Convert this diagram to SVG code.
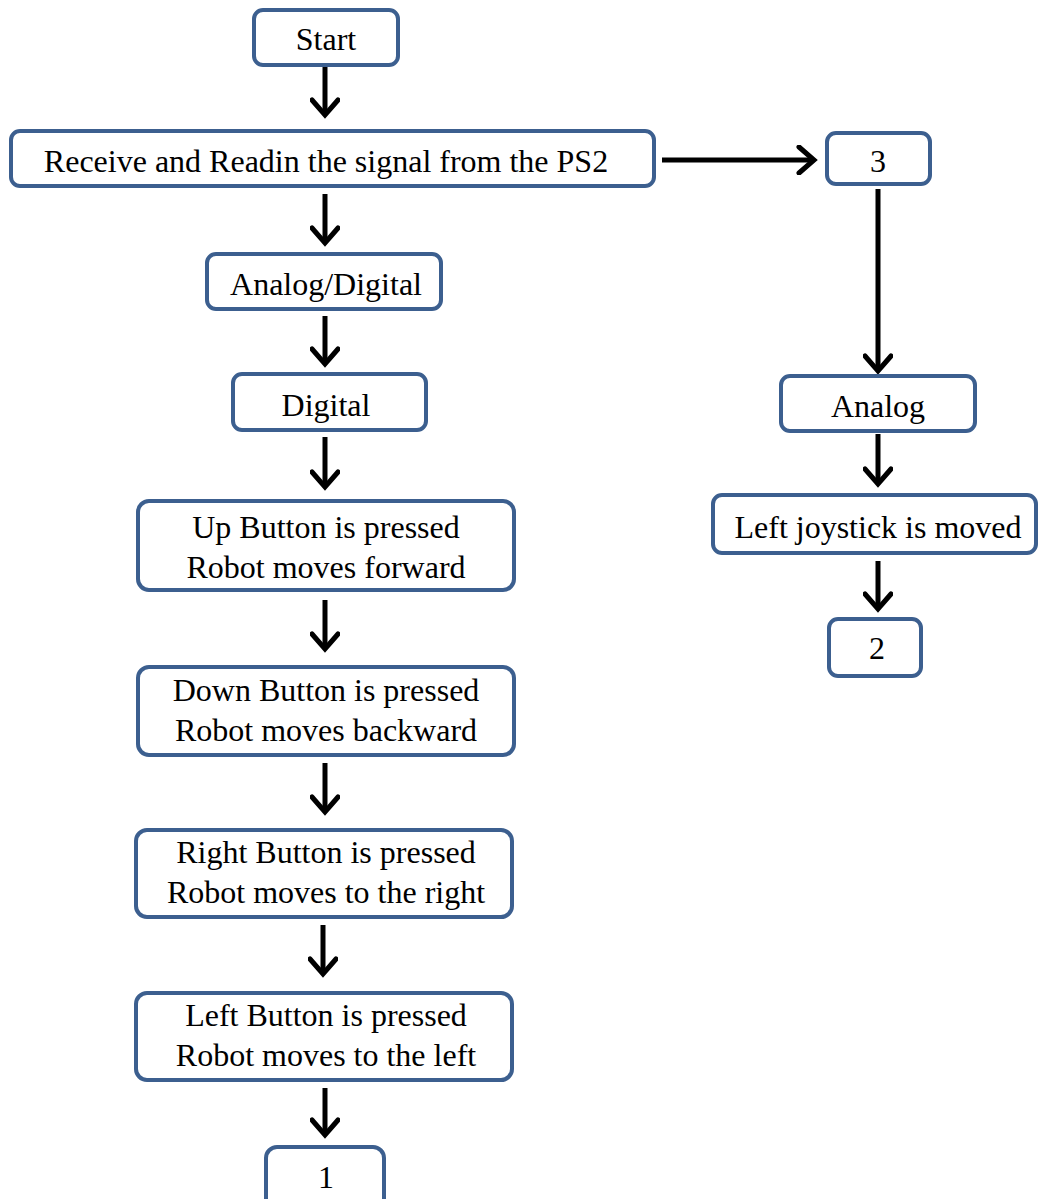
<svg xmlns="http://www.w3.org/2000/svg" width="1038" height="1199" viewBox="0 0 1038 1199">
<defs>
<style>
.box{fill:#fff;stroke:#3C5F8F;stroke-width:4}
.c{stroke:#000;stroke-width:5;fill:none}
</style>
<marker id="ah" markerUnits="userSpaceOnUse" viewBox="-20 -15 24 30" markerWidth="24" markerHeight="30" refX="0" refY="0" orient="auto">
<path d="M-15,-13 L0,0 L-15,13" fill="none" stroke="#000" stroke-width="5" stroke-linecap="round" stroke-linejoin="miter"/>
</marker>
</defs>
<rect width="1038" height="1199" fill="#fff"/>
<g id="connectors">
<line class="c" x1="325" y1="66" x2="325" y2="115" marker-end="url(#ah)"/>
<line class="c" x1="325" y1="194" x2="325" y2="243" marker-end="url(#ah)"/>
<line class="c" x1="325" y1="316" x2="325" y2="364" marker-end="url(#ah)"/>
<line class="c" x1="325" y1="437" x2="325" y2="487" marker-end="url(#ah)"/>
<line class="c" x1="325" y1="600" x2="325" y2="649" marker-end="url(#ah)"/>
<line class="c" x1="325" y1="763" x2="325" y2="812" marker-end="url(#ah)"/>
<line class="c" x1="323" y1="925" x2="323" y2="974" marker-end="url(#ah)"/>
<line class="c" x1="325" y1="1088" x2="325" y2="1135" marker-end="url(#ah)"/>
<line class="c" x1="662" y1="160" x2="814" y2="160" marker-end="url(#ah)"/>
<line class="c" x1="878" y1="189" x2="878" y2="371" marker-end="url(#ah)"/>
<line class="c" x1="878" y1="434" x2="878" y2="484" marker-end="url(#ah)"/>
<line class="c" x1="878" y1="561" x2="878" y2="609" marker-end="url(#ah)"/>
</g>
<g font-family="'Liberation Serif', 'Times New Roman', Times, serif" font-size="32" fill="#000" text-anchor="middle">
<g id="start"><rect class="box" x="254" y="10" width="144" height="55" rx="9"/><text x="326" y="50">Start</text></g>
<g id="receive"><rect class="box" x="11" y="131" width="643" height="55" rx="9"/><text x="326" y="172">Receive and Readin the signal from the PS2</text></g>
<g id="n3"><rect class="box" x="827" y="133" width="103" height="51" rx="9"/><text x="878" y="172">3</text></g>
<g id="analogdigital"><rect class="box" x="207" y="254" width="234" height="55" rx="9"/><text x="326" y="295">Analog/Digital</text></g>
<g id="digital"><rect class="box" x="233" y="374" width="193" height="56" rx="9"/><text x="326" y="416">Digital</text></g>
<g id="analog"><rect class="box" x="781" y="376" width="194" height="55" rx="9"/><text x="878" y="417">Analog</text></g>
<g id="joystick"><rect class="box" x="713" y="495" width="323" height="58" rx="9"/><text x="878" y="538">Left joystick is moved</text></g>
<g id="n2"><rect class="box" x="829" y="619" width="92" height="57" rx="9"/><text x="877" y="659">2</text></g>
<g id="up"><rect class="box" x="138" y="501" width="376" height="89" rx="11"/><text x="326" y="538">Up Button is pressed</text><text x="326" y="578">Robot moves forward</text></g>
<g id="down"><rect class="box" x="138" y="667" width="376" height="88" rx="11"/><text x="326" y="701">Down Button is pressed</text><text x="326" y="741">Robot moves backward</text></g>
<g id="right"><rect class="box" x="136" y="830" width="376" height="87" rx="11"/><text x="326" y="863">Right Button is pressed</text><text x="326" y="903">Robot moves to the right</text></g>
<g id="left"><rect class="box" x="136" y="993" width="376" height="87" rx="11"/><text x="326" y="1026">Left Button is pressed</text><text x="326" y="1066">Robot moves to the left</text></g>
<g id="n1"><rect class="box" x="266" y="1147" width="118" height="62" rx="11"/><text x="326" y="1188">1</text></g>
</g>
</svg>
